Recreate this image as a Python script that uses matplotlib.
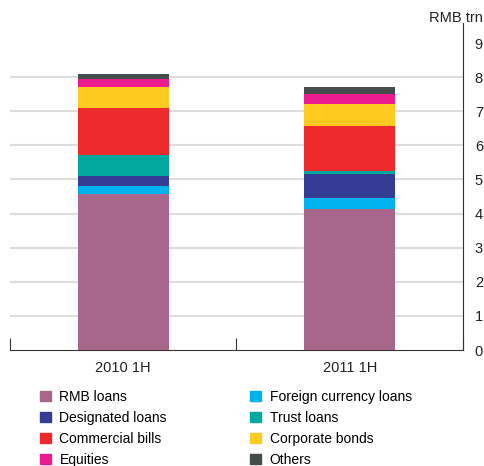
import numpy as np
import matplotlib
matplotlib.use("Agg")
import matplotlib.pyplot as plt
from matplotlib.patches import Patch

plt.rcParams["font.family"] = ["Liberation Sans", "DejaVu Sans"]

# ─── data (RMB trn) ─────────────────────────────────────────────────
periods = ["2010 1H", "2011 1H"]
series = ["RMB loans", "Foreign currency loans", "Designated loans", "Trust loans",
          "Commercial bills", "Corporate bonds", "Equities", "Others"]
rmb_loans   = [4.58, 4.14]
fx_loans    = [0.23, 0.32]
designated  = [0.29, 0.70]
trust       = [0.61, 0.10]
comm_bills  = [1.39, 1.31]
corp_bonds  = [0.61, 0.64]
equities    = [0.24, 0.30]
others      = [0.14, 0.20]
values = [rmb_loans, fx_loans, designated, trust, comm_bills, corp_bonds, equities, others]
colors = ["#A8668A", "#00B2EE", "#353C94", "#00A89D",
          "#EE2A2D", "#FFCB20", "#EC1C8E", "#454C4C"]

fig = plt.figure(figsize=(4.85, 4.66), dpi=100)
ax = fig.add_axes([10/485, 116/466, 453/485, (350-22.6)/466])

x = np.arange(len(periods))
bottom = np.zeros(len(periods))
for vals, c in zip(values, colors):
    ax.bar(x, vals, bottom=bottom, width=0.4, color=c, zorder=3)
    bottom += np.array(vals)

for y in range(1, 9):
    ax.axhline(y, color="#DDDDDD", lw=1.5, zorder=1)

ax.set_xlim(-0.5, 1.5)
ax.set_ylim(0, 9.6)
for s in ["top", "left"]:
    ax.spines[s].set_visible(False)
ax.spines["bottom"].set_color("#333333")
ax.spines["right"].set_color("#333333")
ax.spines["bottom"].set_linewidth(0.8)
ax.spines["right"].set_linewidth(0.8)

ax.yaxis.tick_right()
ax.set_yticks(range(0, 10))
ax.tick_params(axis="y", length=0, pad=8.5, labelsize=10.5, labelcolor="#222222")

ax.set_xticks([-0.5, 0.5, 1.5])
ax.set_xticklabels([])
ax.tick_params(axis="x", direction="in", length=9, color="#333333", width=0.8)
for xi, lab in zip(x, periods):
    ax.text(xi, -0.32, lab, ha="center", va="top", fontsize=10.5, color="#222222")

fig.text(483/485, 1 - 18/466, "RMB trn", ha="right", va="center", fontsize=10.5, color="#222222")

handles = [Patch(color=c, label=s) for s, c in zip(series, colors)]
order = [0, 2, 4, 6, 1, 3, 5, 7]
fig.legend([handles[i] for i in order], [series[i] for i in order],
           ncol=2, loc="upper left", bbox_to_anchor=(40/485, 1 - 390/466),
           frameon=False, fontsize=10, handlelength=0.8, handleheight=0.8,
           handletextpad=0.6, columnspacing=6.0, labelspacing=0.5,
           borderaxespad=0, borderpad=0)

fig.savefig("out.png", dpi=100)
